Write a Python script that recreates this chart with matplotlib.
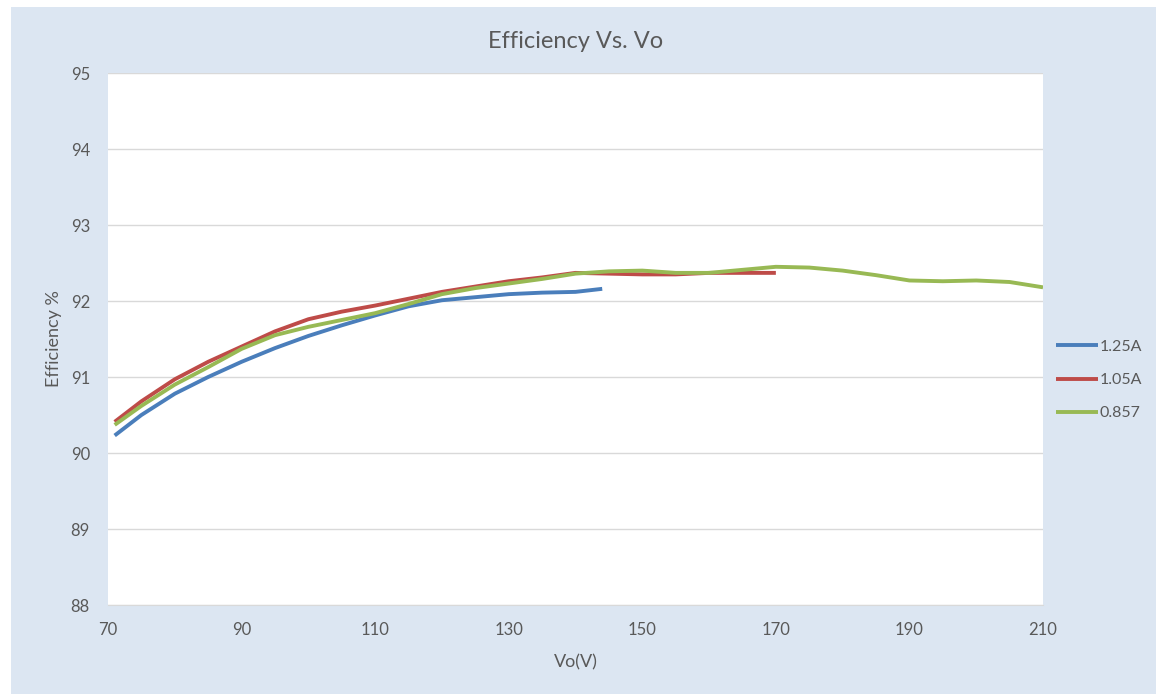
import matplotlib
matplotlib.use("Agg")
from matplotlib import pyplot as plt
from matplotlib.patches import Rectangle

# values
vo_125 = [71, 75, 80, 85, 90, 95, 100, 105, 110, 115, 120, 125, 130, 135, 140, 144]
eff_125 = [90.23, 90.50, 90.78, 91.00, 91.20, 91.38, 91.54, 91.68, 91.81, 91.93,
           92.01, 92.05, 92.09, 92.11, 92.12, 92.16]

vo_105 = [71, 75, 80, 85, 90, 95, 100, 105, 110, 115, 120, 125, 130, 135, 140,
          145, 150, 155, 160, 165, 170]
eff_105 = [90.41, 90.68, 90.97, 91.20, 91.40, 91.60, 91.76, 91.86, 91.94, 92.03,
           92.12, 92.19, 92.26, 92.31, 92.37, 92.36, 92.35, 92.35, 92.37, 92.37, 92.37]

vo_0857 = [71, 75, 80, 85, 90, 95, 100, 105, 110, 115, 120, 125, 130, 135, 140,
           145, 150, 155, 160, 165, 170, 175, 180, 185, 190, 195, 200, 205, 210]
eff_0857 = [90.37, 90.62, 90.90, 91.13, 91.37, 91.55, 91.66, 91.75, 91.84, 91.96,
            92.09, 92.17, 92.23, 92.29, 92.36, 92.39, 92.40, 92.37, 92.37, 92.41,
            92.45, 92.44, 92.40, 92.34, 92.27, 92.26, 92.27, 92.25, 92.18]

series = [
    (vo_125, eff_125, "1.25A", "#4a7ebb"),
    (vo_105, eff_105, "1.05A", "#be4b48"),
    (vo_0857, eff_0857, "0.857", "#98b954"),
]

x_ticks = [70, 90, 110, 130, 150, 170, 190, 210]
y_ticks = [88, 89, 90, 91, 92, 93, 94, 95]

plt.rcParams['font.family'] = ['Lato', 'DejaVu Sans']
text_color = "#595959"

W, H = 1156, 694
fig = plt.figure(figsize=(W / 100, H / 100), dpi=100, facecolor="white")
fig.patches.append(Rectangle((11 / W, 0), 1 - 11 / W, 1 - 7 / H,
                             transform=fig.transFigure, facecolor="#dce6f2",
                             edgecolor="none", zorder=-10))

ax = fig.add_axes([108 / W, 1 - 605 / H, (1043 - 108) / W, (605 - 73) / H])
ax.set_facecolor("white")

for xs, ys, name, color in series:
    ax.plot(xs, ys, color=color, linewidth=2.8, label=name,
            solid_capstyle="butt", solid_joinstyle="round")

ax.set_xlim(70, 210)
ax.set_ylim(88, 95)
ax.set_xticks(x_ticks)
ax.set_yticks(y_ticks)
ax.tick_params(axis="both", length=0, labelsize=12, colors=text_color)
ax.tick_params(axis="x", pad=12)
ax.tick_params(axis="y", pad=13)
ax.grid(axis="y", color="#d9d9d9", linewidth=1)
ax.set_axisbelow(True)
for side in ["top", "right", "left"]:
    ax.spines[side].set_visible(False)
ax.spines["bottom"].set_color("#d9d9d9")

ax.set_xlabel("Vo(V)", fontsize=13, color=text_color, labelpad=12)
ax.set_ylabel("Efficiency %", fontsize=13, color=text_color, labelpad=6)
fig.text(0.5 * (108 + 1043) / W, 1 - 42 / H, "Efficiency Vs. Vo", ha="center",
         va="center", fontsize=17, color=text_color)

leg = fig.legend(loc="center left", bbox_to_anchor=(1056 / W, 1 - 380 / H),
                 frameon=False, fontsize=11.5, handlelength=2.6, labelspacing=1.2,
                 handletextpad=0.15, borderaxespad=0, borderpad=0)
for t in leg.get_texts():
    t.set_color(text_color)

fig.savefig("out.png", dpi=100, facecolor=fig.get_facecolor())
